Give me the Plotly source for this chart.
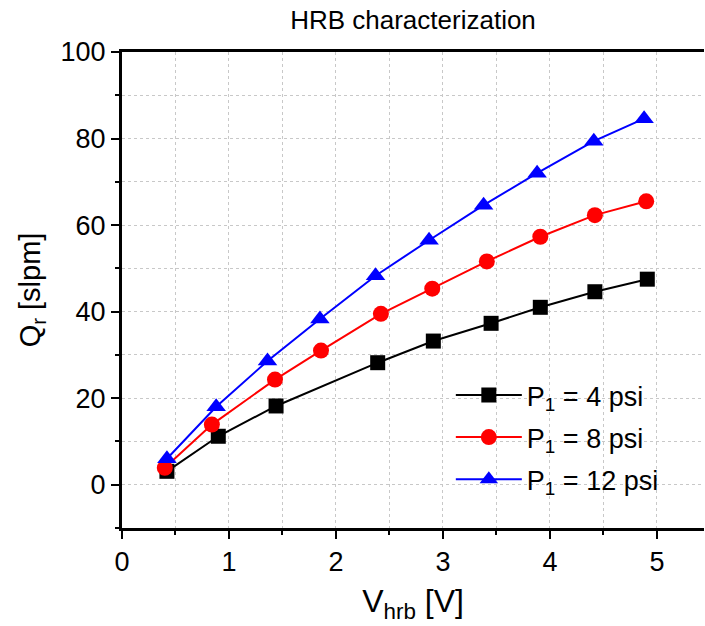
import plotly.graph_objects as go

title_text = "HRB characterization"
x_title = "V<sub>hrb</sub> [V]"
y_title = "Q<sub>r</sub> [slpm]"

names = ["P<sub>1</sub> = 4 psi", "P<sub>1</sub> = 8 psi", "P<sub>1</sub> = 12 psi"]

x_4psi = [0.42, 0.90, 1.44, 2.39, 2.91, 3.45, 3.91, 4.42, 4.91]
y_4psi = [3.1, 11.2, 18.2, 28.2, 33.2, 37.3, 41.0, 44.6, 47.5]

x_8psi = [0.40, 0.84, 1.43, 1.86, 2.42, 2.90, 3.41, 3.91, 4.42, 4.90]
y_8psi = [3.9, 13.9, 24.3, 31.0, 39.5, 45.3, 51.6, 57.3, 62.3, 65.5]

x_12psi = [0.42, 0.88, 1.36, 1.85, 2.37, 2.87, 3.38, 3.88, 4.41, 4.88]
y_12psi = [6.0, 18.0, 28.6, 38.3, 48.3, 56.5, 64.6, 72.0, 79.4, 84.6]

colors = ["#000000", "#ff0000", "#0000ff"]
symbols = ["square", "circle", "triangle-up"]
msizes = [15, 16, 17]

font_family = "Liberation Sans, Arial, sans-serif"

fig = go.Figure()
for i, (xs, ys, nm, c, s, ms) in enumerate(zip([x_4psi, x_8psi, x_12psi], [y_4psi, y_8psi, y_12psi],
                                names, colors, symbols, msizes)):
    fig.add_trace(go.Scatter(
        x=xs, y=ys, name=nm, mode="lines+markers", legendgroup=f"g{i}",
        line=dict(color=c, width=2),
        marker=dict(symbol=s, size=ms, color=c),
    ))

grid_col = "#c8c8c8"
fig.update_layout(
    width=705, height=626,
    margin=dict(l=122, r=1, t=52, b=98),
    paper_bgcolor="white", plot_bgcolor="white",
    font=dict(family=font_family, color="black", size=27),
    title=dict(text=title_text, x=0.5, xanchor="center", xref="paper",
               y=1 - 20 / 626, yanchor="middle", font=dict(size=26)),
    showlegend=True,
    legend=dict(x=0.565, y=0.33, xanchor="left", yanchor="top",
                bgcolor="rgba(0,0,0,0)", font=dict(size=27),
                itemwidth=66, tracegroupgap=4),
    xaxis=dict(
        range=[0, 5.44], tickvals=[0, 1, 2, 3, 4, 5],
        showline=True, linecolor="black", linewidth=3, mirror=True,
        ticks="outside", ticklen=8, tickwidth=2, tickcolor="black",
        tickfont=dict(size=27),
        showgrid=True, gridcolor=grid_col, gridwidth=1, griddash="3px,3px",
        zeroline=False,
        minor=dict(dtick=0.5, tick0=0, ticks="outside", ticklen=4, tickwidth=2,
                   tickcolor="black", showgrid=True, gridcolor=grid_col,
                   gridwidth=1, griddash="3px,3px"),
        title=dict(text=x_title, font=dict(size=32), standoff=14),
    ),
    yaxis=dict(
        range=[-10, 100], tickvals=[0, 20, 40, 60, 80, 100],
        showline=True, linecolor="black", linewidth=3, mirror=False,
        ticks="outside", ticklen=8, tickwidth=2, tickcolor="black",
        tickfont=dict(size=27),
        showgrid=True, gridcolor=grid_col, gridwidth=1, griddash="3px,3px",
        zeroline=False,
        minor=dict(dtick=10, tick0=0, ticks="outside", ticklen=4, tickwidth=2,
                   tickcolor="black", showgrid=True, gridcolor=grid_col,
                   gridwidth=1, griddash="3px,3px"),
        title=dict(text=y_title, font=dict(size=29), standoff=12),
    ),
)

fig.write_html("out.html")
